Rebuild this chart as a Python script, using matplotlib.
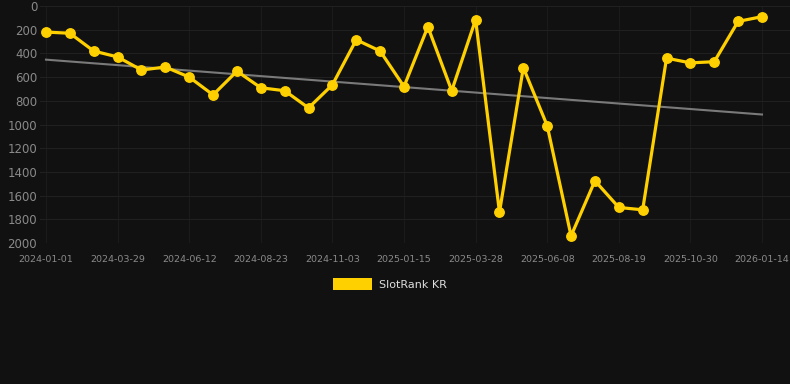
import matplotlib
matplotlib.use("Agg")
import matplotlib.pyplot as plt
import numpy as np
from matplotlib.patches import Rectangle

tick_labels = ["2024-01-01", "2024-03-29", "2024-06-12", "2024-08-23", "2024-11-03",
               "2025-01-15", "2025-03-28", "2025-06-08", "2025-08-19", "2025-10-30",
               "2026-01-14"]
ranks = [220, 230, 380, 430, 540, 515, 600, 750, 550, 690, 715, 860, 665, 285, 380,
         680, 175, 715, 115, 1740, 520, 1010, 1940, 1475, 1700, 1720, 440, 480, 470,
         130, 90]
series_name = "SlotRank KR"
y_ticks = [0, 200, 400, 600, 800, 1000, 1200, 1400, 1600, 1800, 2000]

BG = "#111111"
YELLOW = "#FFD000"

fig = plt.figure(figsize=(7.9, 3.84), dpi=100, facecolor=BG)
W, H = 790, 384
ax = fig.add_axes([40 / W, 1 - 243 / H, 750 / W, (243 - 6) / H], facecolor=BG)

x = np.arange(len(ranks))
step = 716 / 30
ax.set_xlim(-6 / step, 30 + 28 / step)
ax.set_ylim(2000, 0)

# trend line
coef = np.polyfit(x, ranks, 1)
ax.plot([x[0], x[-1]], np.polyval(coef, [x[0], x[-1]]), color="#7a7a7a", lw=1.5, zorder=2)

ax.plot(x, ranks, color=YELLOW, lw=2.3, marker="o", markersize=6.8, zorder=3,
        clip_on=False, label=series_name)

ax.set_yticks(y_ticks)
ax.set_yticklabels([str(v) for v in y_ticks])
ax.set_xticks(x[::3])
ax.set_xticklabels(tick_labels)

ax.grid(True, axis="y", color="#202020", lw=0.8)
ax.grid(True, axis="x", color="#1b1b1b", lw=0.8)
ax.set_axisbelow(True)
for s in ax.spines.values():
    s.set_visible(False)
ax.tick_params(axis="y", length=0, pad=2, labelsize=8.5, labelcolor="#8a8a8a")
ax.tick_params(axis="x", length=0, pad=9, labelsize=6.8, labelcolor="#8a8a8a")

# legend
fig.patches.append(Rectangle((333 / W, 1 - 290 / H), 39 / W, 12 / H,
                             transform=fig.transFigure, facecolor=YELLOW, edgecolor="none"))
fig.text(379 / W, 1 - 284.5 / H, series_name, color="#dddddd", fontsize=8,
         va="center", ha="left")

fig.savefig("out.png", dpi=100, facecolor=BG)
